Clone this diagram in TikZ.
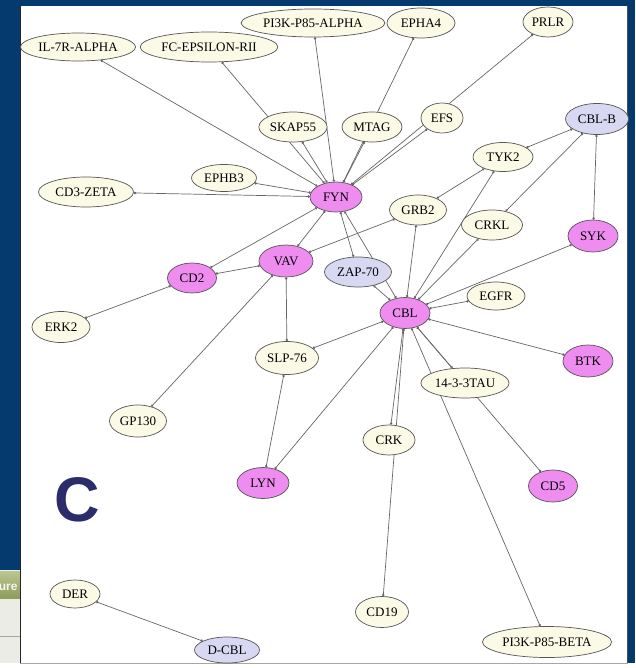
\documentclass[tikz,border=0pt]{standalone}
\usepackage{fontspec}
\setmainfont{Liberation Serif}
\newfontfamily\lsans{Liberation Sans}
\usetikzlibrary{shapes.geometric,arrows.meta}
\pgfdeclarelayer{bg}\pgfdeclarelayer{edges}\pgfsetlayers{bg,edges,main}
\definecolor{navy}{HTML}{043A6D}
\definecolor{cream}{HTML}{FAFAE6}
\definecolor{pinkn}{HTML}{EE8CF0}
\definecolor{lav}{HTML}{D8D8F2}
\definecolor{nodeborder}{HTML}{555555}
\definecolor{edgec}{HTML}{666666}
\definecolor{cnavy}{HTML}{2C2B6C}
\definecolor{btntop}{HTML}{BCC690}
\definecolor{btnbot}{HTML}{8E9C5C}
\definecolor{lgray}{HTML}{ECECE6}
\begin{document}
\begin{tikzpicture}[x=1pt,y=-1pt,
  nd/.style={ellipse, draw=nodeborder, line width=0.7pt, inner sep=1pt,
    font=\fontsize{13}{14}\selectfont, text=black},
  cr/.style={nd, fill=cream},
  pk/.style={nd, fill=pinkn},
  lv/.style={nd, fill=lav},
  ed/.style={draw=edgec, line width=0.7pt,
    {Circle[length=2.4pt]}-{Circle[length=2.4pt]}},
  sz/.style 2 args={minimum width=#1pt, minimum height=#2pt}]
\useasboundingbox (0,0) rectangle (635,668);
\begin{pgfonlayer}{bg}
  \fill[white] (0,0) rectangle (635,668);
  \fill[navy] (0,0) rectangle (635,663);
  \fill[lgray] (0,570) rectangle (20,668);
  \fill[top color=btntop, bottom color=btnbot] (0,571) rectangle (20,598);
  \draw[gray!70, line width=0.8pt] (0,636) -- (20,636);
  \fill[white] (0,663) rectangle (635,668);
  \begin{scope}
    \clip (0,571) rectangle (20,598);
    \node[anchor=east, font=\lsans\bfseries\fontsize{12}{12}\selectfont, text=white!92!gray] (btn) at (21,587) {ure};
  \end{scope}
  \fill[white] (20,6) rectangle (628,663);
  \draw[black!85, line width=0.8pt] (20.4,6) -- (20.4,663);
  \draw[black!70, line width=0.8pt] (627.6,6) -- (627.6,663);
  \draw[gray!70, line width=0.8pt] (20,663) -- (628,663);
\end{pgfonlayer}

% nodes
\node[cr, sz={111}{28}] (il7r) at (78,47) {IL-7R-ALPHA};
\node[cr, sz={128}{30}] (fceps) at (209,47) {FC-EPSILON-RII};
\node[cr, sz={133}{28}] (pi3ka) at (313,23) {PI3K-P85-ALPHA};
\node[cr, sz={68}{30}] (epha4) at (421,23) {EPHA4};
\node[cr, sz={50}{30}] (prlr) at (548,22) {PRLR};
\node[cr, sz={68}{30}] (skap) at (293,127) {SKAP55};
\node[cr, sz={60}{30}] (mtag) at (372,127) {MTAG};
\node[cr, sz={42}{30}] (efs) at (442,118) {EFS};
\node[lv, sz={63}{31}] (cblb) at (597,119) {CBL-B};
\node[cr, sz={60}{29}] (tyk2) at (503,157) {TYK2};
\node[cr, sz={57}{30}] (grb2) at (418,210) {GRB2};
\node[cr, sz={61}{30}] (crkl) at (492,225) {CRKL};
\node[pk, sz={50}{32}] (syk) at (593,236) {SYK};
\node[pk, sz={52}{30}] (fyn) at (336,197) {FYN};
\node[cr, sz={65}{27}] (ephb3) at (224,178) {EPHB3};
\node[cr, sz={95}{30}] (cd3z) at (86,192) {CD3-ZETA};
\node[pk, sz={54}{32}] (vav) at (286,261) {VAV};
\node[pk, sz={49}{30}] (cd2) at (192,278) {CD2};
\node[lv, sz={67}{30}] (zap70) at (358,272) {ZAP-70};
\node[pk, sz={50}{31}] (cbl) at (405,313) {CBL};
\node[cr, sz={58}{28}] (egfr) at (496,296) {EGFR};
\node[cr, sz={58}{31}] (erk2) at (61,327) {ERK2};
\node[cr, sz={63}{33}] (slp76) at (287,358) {SLP-76};
\node[pk, sz={50}{32}] (btk) at (588,361) {BTK};
\node[cr, sz={74}{30}] (tau) at (465,383) {14-3-3TAU};
\node[cr, sz={57}{32}] (gp130) at (138,421) {GP130};
\node[cr, sz={52}{30}] (crk) at (389,440) {CRK};
\node[pk, sz={52}{31}] (lyn) at (263,483) {LYN};
\node[pk, sz={49}{32}] (cd5) at (553,486) {CD5};
\node[cr, sz={53}{31}] (cd19) at (382,612) {CD19};
\node[cr, sz={120}{31}] (pi3kb) at (547,642) {PI3K-P85-BETA};
\node[cr, sz={50}{28}] (der) at (75,594) {DER};
\node[lv, sz={65}{26}] (dcbl) at (227,650) {D-CBL};

\node[font=\lsans\bfseries\fontsize{63}{63}\selectfont, text=cnavy, inner sep=0pt] (lblc) at (77,500) {C};

% edges
\begin{pgfonlayer}{edges}
\foreach \a/\b in {il7r/fyn, fceps/fyn, skap/fyn, pi3ka/fyn, epha4/fyn, mtag/fyn,
  prlr/fyn, efs/fyn, ephb3/fyn, cd3z/fyn, fyn/cd2, fyn/vav, fyn/zap70, fyn/cbl,
  grb2/vav, grb2/tyk2, grb2/cbl, tyk2/cblb, tyk2/cbl, cblb/crkl, crkl/cbl,
  cblb/syk, syk/cbl, egfr/cbl, btk/cbl, tau/cbl, cd5/cbl, pi3kb/cbl, crk/cbl,
  cd19/cbl, slp76/cbl, vav/slp76, lyn/slp76, lyn/cbl, gp130/vav, cd2/vav,
  cd2/erk2, zap70/cbl, der/dcbl}
  \draw[ed] (\a) -- (\b);
\end{pgfonlayer}
\end{tikzpicture}
\end{document}
